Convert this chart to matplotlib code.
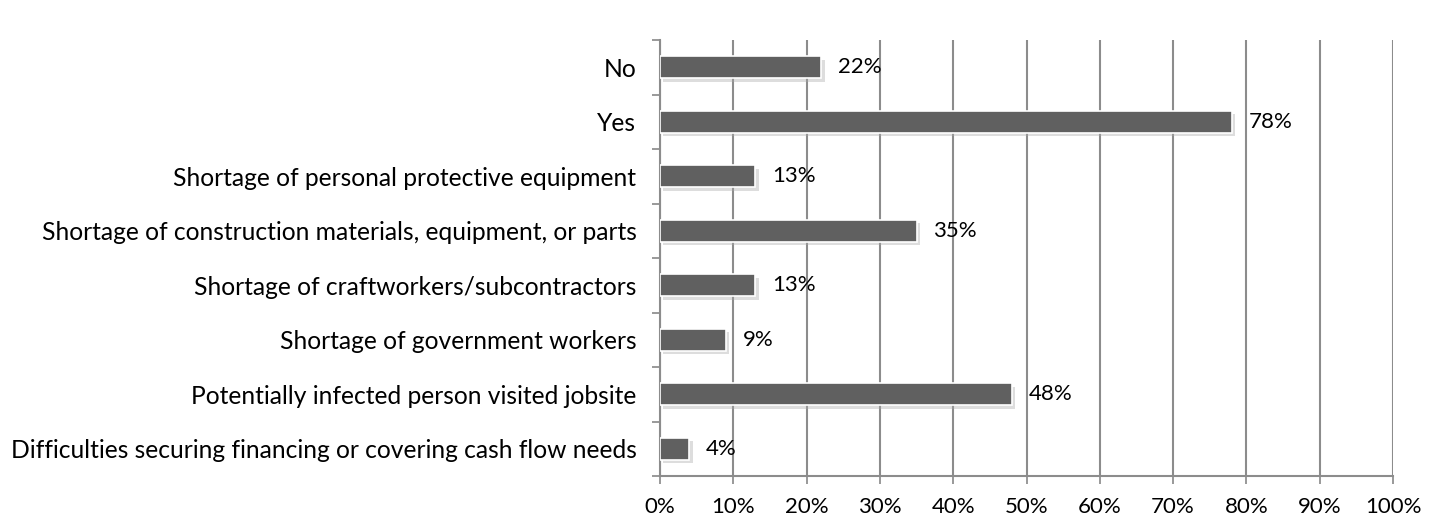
import matplotlib
matplotlib.use("Agg")
import matplotlib.pyplot as plt
import matplotlib.patheffects as pe
import numpy as np
from matplotlib.ticker import FixedLocator, PercentFormatter

categories = [
    "No",
    "Yes",
    "Shortage of personal protective equipment",
    "Shortage of construction materials, equipment, or parts",
    "Shortage of craftworkers/subcontractors",
    "Shortage of government workers",
    "Potentially infected person visited jobsite",
    "Difficulties securing financing or covering cash flow needs",
]
values = [22, 78, 13, 35, 13, 9, 48, 4]
xticks = [0, 10, 20, 30, 40, 50, 60, 70, 80, 90, 100]

plt.rcParams['font.family'] = ['Lato', 'DejaVu Sans']

fig = plt.figure(figsize=(14.41, 5.25), dpi=100)
ax = fig.add_axes([660/1441, 1-476/525, (1393-660)/1441, (476-40)/525])

n = len(categories)
ypos = np.arange(n)[::-1]
bars = ax.barh(ypos, values, height=0.41, color='#606060', edgecolor='white',
               linewidth=1.2, zorder=3)
for b in bars:
    b.set_path_effects([pe.SimplePatchShadow(offset=(2.5, -2.5), shadow_rgbFace='#aaaaaa', alpha=0.4),
                        pe.Normal()])
for y, v in zip(ypos, values):
    ax.text(v + 2.3, y, f"{v}%", va='center', ha='left', fontsize=16, color='black', zorder=4)

ax.set_xlim(0, 100)
ax.set_ylim(-0.5, n - 0.5)
ax.xaxis.set_major_locator(FixedLocator(xticks))
ax.xaxis.set_major_formatter(PercentFormatter(decimals=0))
ax.set_yticks(ypos)
ax.set_yticklabels(categories, fontsize=17.7)
ax.yaxis.set_minor_locator(FixedLocator(np.arange(-0.5, n, 1.0)))
ax.tick_params(axis='y', which='major', length=0, pad=17)
ax.tick_params(axis='y', which='minor', length=6, width=1.2, color='#888888', direction='out')
ax.tick_params(axis='x', which='major', length=6, width=1.2, color='#888888', direction='out',
               labelsize=16, pad=9)
ax.grid(axis='x', color='#8c8c8c', linewidth=1.5, zorder=0)
ax.set_axisbelow(True)
for s in ['top', 'right']:
    ax.spines[s].set_visible(False)
for s in ['left', 'bottom']:
    ax.spines[s].set_color('#8c8c8c')
    ax.spines[s].set_linewidth(1.5)

fig.savefig('out.png', dpi=100, facecolor='white')
